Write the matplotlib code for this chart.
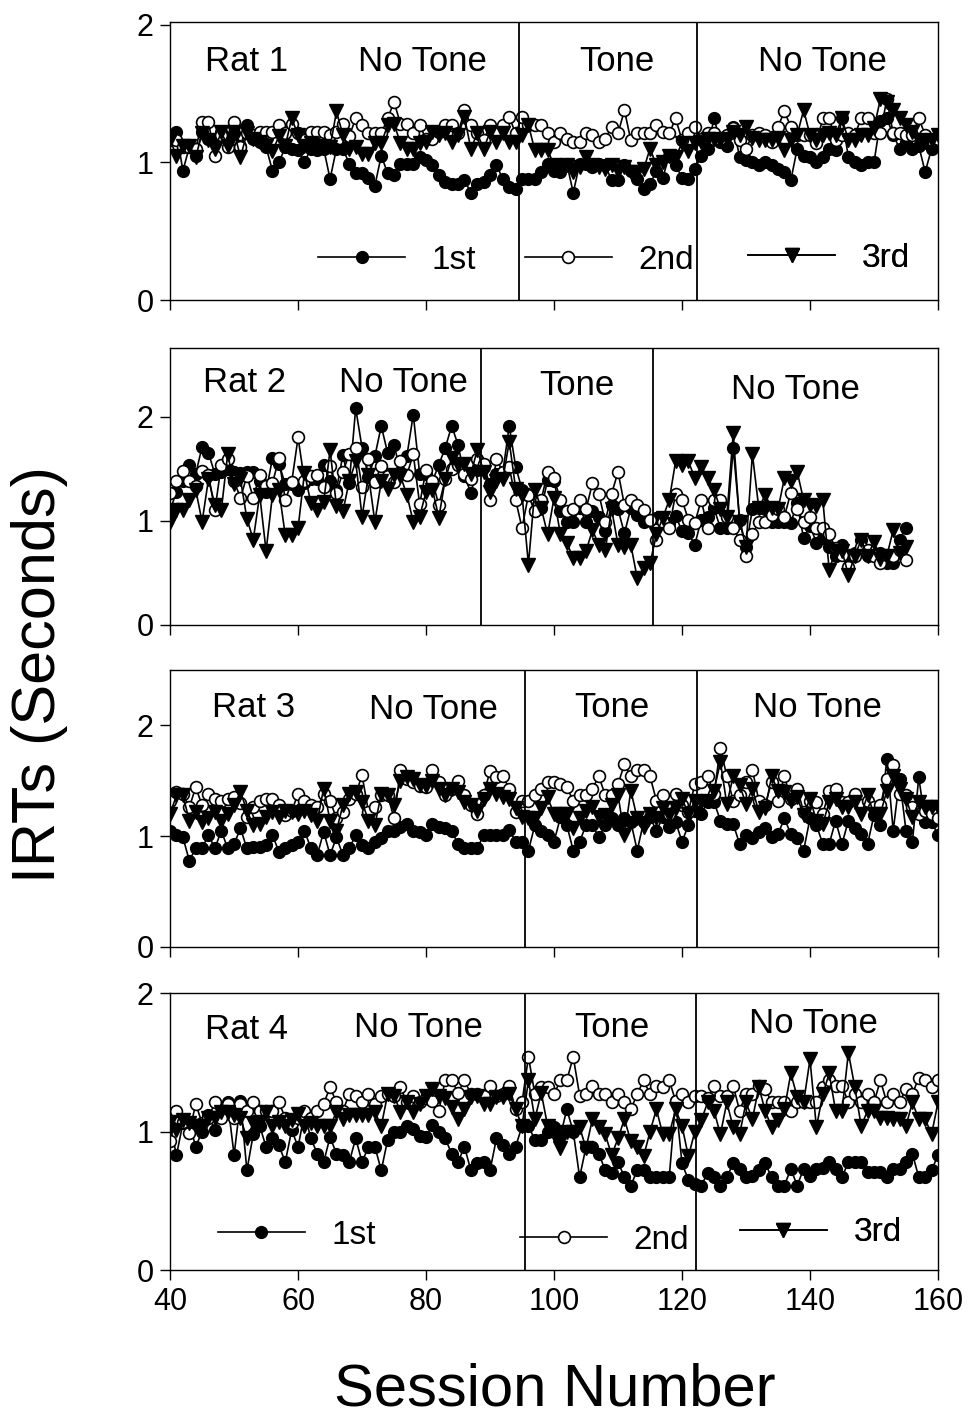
import matplotlib.pyplot as plt
import numpy as np
from matplotlib.lines import Line2D

plt.rcParams['font.family'] = ['Liberation Sans', 'DejaVu Sans']

# -----------------------------------------------------------------------------
# Data (IRTs in seconds)
# -----------------------------------------------------------------------------
sessions = np.arange(40, 161)
sessions_rat2 = np.arange(40, 156)

rat1_first = [
    1.20, 1.22, 0.94, 1.11, 1.05, 1.22, 1.17, 1.15, 1.22, 1.17,
    1.21, 1.12, 1.27, 1.17, 1.15, 1.11, 0.94, 1.00, 1.11, 1.10,
    1.09, 1.00, 1.10, 1.09, 1.10, 0.88, 1.10, 1.10, 0.99, 0.92,
    0.92, 0.89, 0.83, 1.05, 0.92, 0.91, 0.99, 0.99, 0.99, 1.04,
    1.02, 0.98, 0.91, 0.86, 0.84, 0.84, 0.87, 0.78, 0.84, 0.86,
    0.91, 0.98, 0.88, 0.82, 0.81, 0.88, 0.88, 0.88, 0.93, 0.99,
    0.94, 0.93, 0.99, 0.78, 0.99, 0.99, 0.97, 0.99, 0.98, 0.87,
    0.87, 0.98, 0.94, 0.88, 0.81, 0.84, 0.94, 0.89, 1.05, 0.98,
    0.89, 0.88, 0.95, 1.05, 1.10, 1.32, 1.15, 1.12, 1.26, 1.04,
    1.02, 1.00, 0.98, 1.00, 0.98, 0.95, 0.93, 0.87, 1.10, 1.05,
    1.04, 1.00, 1.04, 1.10, 1.09, 1.32, 1.04, 1.00, 0.98, 1.00,
    1.00, 1.30, 1.32, 1.20, 1.10, 1.15, 1.10, 1.12, 0.93, 1.10,
    1.17]
rat1_second = [
    1.17, 1.16, 1.11, 1.11, 1.10, 1.29, 1.29, 1.05, 1.20, 1.11,
    1.29, 1.11, 1.21, 1.20, 1.22, 1.22, 1.22, 1.27, 1.21, 1.28,
    1.21, 1.16, 1.22, 1.22, 1.22, 1.20, 1.22, 1.28, 1.19, 1.32,
    1.27, 1.21, 1.21, 1.21, 1.32, 1.44, 1.28, 1.28, 1.21, 1.27,
    1.17, 1.17, 1.22, 1.27, 1.27, 1.21, 1.38, 1.27, 1.21, 1.16,
    1.27, 1.21, 1.27, 1.33, 1.21, 1.33, 1.27, 1.27, 1.27, 1.21,
    1.15, 1.21, 1.17, 1.15, 1.15, 1.21, 1.20, 1.15, 1.17, 1.26,
    1.21, 1.38, 1.16, 1.21, 1.21, 1.21, 1.27, 1.22, 1.21, 1.32,
    1.16, 1.21, 1.26, 1.17, 1.21, 1.21, 1.17, 1.20, 1.25, 1.16,
    1.10, 1.20, 1.21, 1.20, 1.15, 1.26, 1.37, 1.26, 1.20, 1.20,
    1.20, 1.14, 1.32, 1.32, 1.16, 1.20, 1.21, 1.20, 1.32, 1.32,
    1.21, 1.21, 1.46, 1.21, 1.21, 1.20, 1.20, 1.32, 1.20, 1.16,
    1.17]
rat1_third = [
    1.16, 1.05, 1.12, 1.12, 1.04, 1.21, 1.16, 1.10, 1.22, 1.12,
    1.22, 1.04, 1.21, 1.17, 1.15, 1.12, 1.08, 1.19, 1.12, 1.32,
    1.20, 1.12, 1.14, 1.12, 1.12, 1.11, 1.37, 1.20, 1.10, 1.11,
    1.06, 1.06, 1.14, 1.14, 1.27, 1.28, 1.14, 1.10, 1.10, 1.14,
    1.15, 1.22, 1.20, 1.21, 1.15, 1.20, 1.33, 1.10, 1.21, 1.10,
    1.22, 1.15, 1.21, 1.15, 1.15, 1.20, 1.27, 1.09, 1.09, 1.09,
    0.98, 0.97, 0.98, 0.93, 0.97, 1.04, 0.98, 0.97, 0.95, 0.98,
    0.94, 0.97, 0.93, 0.93, 0.95, 1.10, 0.98, 1.00, 1.05, 1.04,
    1.14, 1.08, 1.14, 1.15, 1.17, 1.17, 1.16, 1.17, 1.22, 1.20,
    1.26, 1.18, 1.16, 1.16, 1.16, 1.18, 1.09, 1.16, 1.20, 1.38,
    1.20, 1.16, 1.20, 1.21, 1.20, 1.32, 1.16, 1.16, 1.20, 1.20,
    1.25, 1.46, 1.44, 1.38, 1.32, 1.27, 1.22, 1.16, 1.15, 1.16,
    1.20]

rat2_first = [
    1.10, 1.28, 1.38, 1.54, 1.45, 1.71, 1.65, 1.45, 1.47, 1.50,
    1.47, 1.46, 1.47, 1.47, 1.38, 1.28, 1.60, 1.55, 1.35, 1.35,
    1.30, 1.36, 1.40, 1.40, 1.54, 1.38, 1.30, 1.63, 1.36, 2.08,
    1.70, 1.42, 1.62, 1.91, 1.65, 1.73, 1.47, 1.62, 2.02, 1.45,
    1.45, 1.38, 1.54, 1.70, 1.91, 1.73, 1.43, 1.27, 1.49, 1.52,
    1.35, 1.45, 1.47, 1.91, 1.52, 1.30, 1.25, 1.09, 1.12, 1.39,
    1.38, 1.09, 0.99, 0.99, 1.12, 0.99, 1.09, 1.04, 0.90, 1.15,
    1.11, 0.88, 1.12, 1.06, 0.99, 1.01, 1.03, 1.00, 0.98, 1.05,
    0.90, 0.88, 0.77, 1.01, 1.04, 1.12, 0.93, 0.93, 1.70, 1.01,
    0.75, 1.11, 1.12, 1.11, 0.99, 0.99, 0.99, 0.98, 1.17, 0.83,
    0.95, 0.79, 0.83, 0.75, 0.66, 0.77, 0.66, 0.69, 0.82, 0.66,
    0.69, 0.69, 0.59, 0.59, 0.82, 0.93]
rat2_second = [
    1.27, 1.38, 1.48, 1.38, 1.33, 1.48, 1.44, 1.10, 1.54, 1.59,
    1.38, 1.22, 1.43, 1.22, 1.44, 1.33, 1.36, 1.60, 1.20, 1.37,
    1.80, 1.38, 1.43, 1.44, 1.32, 1.53, 1.27, 1.47, 1.64, 1.70,
    1.32, 1.59, 1.37, 1.53, 1.43, 1.37, 1.57, 1.44, 1.64, 1.16,
    1.49, 1.38, 1.15, 1.40, 1.50, 1.54, 1.45, 1.40, 1.59, 1.55,
    1.20, 1.59, 1.47, 1.52, 1.20, 0.93, 1.25, 1.09, 1.20, 1.47,
    1.41, 1.20, 1.09, 1.11, 1.20, 1.11, 1.36, 1.26, 0.99, 1.26,
    1.47, 1.15, 1.20, 1.15, 1.10, 1.01, 0.82, 0.99, 0.93, 1.26,
    1.20, 1.01, 0.98, 1.20, 0.93, 1.20, 1.20, 1.04, 0.93, 0.82,
    0.66, 0.87, 0.99, 0.99, 1.06, 1.11, 1.04, 1.27, 1.11, 0.99,
    1.04, 0.93, 0.93, 0.87, 0.74, 0.67, 0.56, 0.66, 0.75, 0.72,
    0.66, 0.59, 0.67, 0.66, 0.72, 0.62]
rat2_third = [
    0.99, 1.10, 1.10, 1.20, 1.30, 0.99, 1.40, 1.15, 1.10, 1.64,
    1.35, 1.40, 1.02, 0.82, 1.25, 0.71, 1.25, 1.30, 0.86, 0.86,
    0.93, 1.46, 1.17, 1.10, 1.18, 1.68, 1.14, 1.09, 1.38, 1.57,
    1.04, 1.44, 0.99, 1.38, 1.31, 1.44, 1.43, 1.25, 0.99, 1.04,
    1.28, 1.30, 1.03, 1.40, 1.60, 1.54, 1.55, 1.45, 1.68, 1.47,
    1.28, 1.38, 1.40, 1.76, 1.31, 1.25, 0.58, 1.30, 1.12, 0.87,
    1.22, 0.87, 0.79, 0.64, 0.64, 0.71, 0.91, 0.77, 0.72, 1.11,
    0.77, 0.75, 0.77, 0.45, 0.55, 0.59, 0.87, 1.03, 1.20, 1.57,
    1.54, 1.57, 1.41, 1.52, 1.41, 1.30, 1.11, 1.04, 1.84, 0.99,
    0.75, 1.64, 1.12, 1.25, 1.12, 1.11, 1.41, 1.38, 1.47, 1.20,
    1.15, 1.14, 1.20, 0.53, 0.71, 0.71, 0.48, 0.66, 0.82, 0.66,
    0.80, 0.63, 0.66, 0.91, 0.69, 0.75]

rat3_first = [
    1.05, 1.01, 0.99, 0.78, 0.89, 0.89, 1.01, 0.89, 1.05, 0.89,
    0.93, 1.07, 0.89, 0.90, 0.90, 0.92, 1.01, 0.86, 0.89, 0.92,
    0.95, 1.05, 0.89, 0.83, 1.04, 0.83, 0.99, 0.83, 0.89, 1.01,
    0.92, 0.89, 0.95, 0.98, 1.05, 1.05, 1.08, 1.11, 1.05, 1.04,
    1.01, 1.11, 1.08, 1.07, 1.05, 0.93, 0.89, 0.89, 0.89, 1.01,
    1.01, 1.01, 1.01, 1.06, 0.95, 0.95, 0.87, 1.10, 1.05, 1.01,
    0.95, 1.17, 1.10, 0.87, 0.95, 1.10, 1.10, 0.99, 1.10, 1.16,
    1.10, 1.16, 1.13, 0.87, 1.13, 1.17, 1.05, 1.17, 1.08, 1.13,
    0.95, 1.10, 1.23, 1.20, 1.31, 1.31, 1.14, 1.11, 1.11, 0.93,
    1.01, 0.98, 1.04, 1.07, 0.99, 1.02, 1.16, 1.02, 0.98, 0.87,
    1.16, 1.10, 0.93, 0.93, 1.14, 0.93, 1.14, 1.07, 1.02, 0.93,
    1.19, 1.10, 1.70, 1.05, 1.52, 1.05, 0.95, 1.53, 1.13, 1.13,
    1.01]
rat3_second = [
    1.32, 1.40, 1.38, 1.26, 1.44, 1.28, 1.38, 1.34, 1.32, 1.34,
    1.35, 1.30, 1.17, 1.26, 1.32, 1.34, 1.34, 1.28, 1.19, 1.23,
    1.38, 1.32, 1.28, 1.26, 1.38, 1.32, 1.16, 1.22, 1.34, 1.38,
    1.55, 1.22, 1.26, 1.37, 1.37, 1.16, 1.60, 1.52, 1.49, 1.45,
    1.44, 1.60, 1.49, 1.37, 1.43, 1.50, 1.37, 1.28, 1.20, 1.37,
    1.59, 1.53, 1.54, 1.43, 1.22, 1.32, 1.32, 1.37, 1.43, 1.49,
    1.49, 1.47, 1.44, 1.32, 1.37, 1.37, 1.43, 1.54, 1.37, 1.37,
    1.47, 1.65, 1.54, 1.60, 1.60, 1.54, 1.32, 1.37, 1.20, 1.38,
    1.28, 1.22, 1.47, 1.49, 1.54, 1.38, 1.80, 1.54, 1.32, 1.37,
    1.49, 1.60, 1.32, 1.28, 1.49, 1.32, 1.54, 1.34, 1.43, 1.22,
    1.32, 1.31, 1.20, 1.41, 1.43, 1.31, 1.31, 1.38, 1.28, 1.32,
    1.26, 1.28, 1.52, 1.64, 1.38, 1.37, 1.26, 1.20, 1.23, 1.20,
    1.16]
rat3_third = [
    1.20, 1.37, 1.37, 1.14, 1.22, 1.13, 1.16, 1.22, 1.14, 1.20,
    1.28, 1.40, 1.23, 1.10, 1.11, 1.17, 1.22, 1.17, 1.23, 1.22,
    1.20, 1.23, 1.19, 1.14, 1.43, 1.14, 1.05, 1.28, 1.38, 1.40,
    1.31, 1.14, 1.10, 1.38, 1.37, 1.28, 1.50, 1.53, 1.52, 1.46,
    1.45, 1.50, 1.43, 1.37, 1.43, 1.40, 1.31, 1.28, 1.23, 1.34,
    1.43, 1.38, 1.35, 1.34, 1.25, 1.17, 1.16, 1.16, 1.25, 1.35,
    1.20, 1.20, 1.20, 1.07, 1.16, 1.23, 1.26, 1.17, 1.19, 1.28,
    1.37, 1.01, 1.41, 1.16, 1.08, 1.20, 1.16, 1.25, 1.19, 1.25,
    1.34, 1.20, 1.32, 1.31, 1.32, 1.41, 1.67, 1.29, 1.54, 1.46,
    1.29, 1.43, 1.22, 1.25, 1.54, 1.41, 1.40, 1.32, 1.35, 1.19,
    1.34, 1.14, 1.11, 1.31, 1.34, 1.26, 1.26, 1.31, 1.20, 1.37,
    1.20, 1.20, 1.41, 1.54, 1.43, 1.34, 1.17, 1.31, 1.26, 1.26,
    1.26]

rat4_first = [
    1.04, 0.83, 1.06, 1.06, 0.89, 1.00, 1.12, 1.01, 1.18, 1.21,
    0.83, 1.22, 0.72, 0.98, 1.04, 0.89, 0.95, 0.90, 0.78, 1.01,
    0.89, 1.13, 0.95, 0.84, 0.78, 0.96, 0.84, 0.83, 0.78, 0.95,
    0.78, 0.89, 0.89, 0.72, 0.94, 1.00, 1.00, 1.04, 1.02, 0.97,
    0.96, 1.05, 1.00, 0.95, 0.84, 0.78, 0.89, 0.72, 0.77, 0.78,
    0.72, 0.95, 0.90, 0.84, 0.89, 1.04, 1.04, 0.94, 0.94, 1.00,
    1.03, 0.97, 1.16, 1.00, 0.67, 0.89, 0.89, 0.84, 0.72, 0.70,
    0.78, 0.67, 0.61, 0.72, 0.72, 0.67, 0.67, 0.67, 0.67, 1.22,
    0.77, 0.65, 0.62, 0.61, 0.70, 0.67, 0.61, 0.67, 0.77, 0.73,
    0.67, 0.68, 0.72, 0.77, 0.67, 0.61, 0.61, 0.73, 0.61, 0.73,
    0.68, 0.73, 0.74, 0.78, 0.73, 0.67, 0.78, 0.78, 0.78, 0.71,
    0.71, 0.71, 0.67, 0.73, 0.73, 0.78, 0.84, 0.67, 0.67, 0.72,
    0.83]
rat4_second = [
    0.93, 1.15, 1.07, 0.99, 1.20, 1.06, 1.10, 1.21, 1.10, 1.20,
    1.10, 1.20, 1.15, 1.21, 1.15, 1.15, 1.15, 1.21, 1.10, 1.06,
    1.10, 1.15, 1.10, 1.15, 1.20, 1.32, 1.21, 1.15, 1.27, 1.26,
    1.21, 1.27, 1.20, 1.26, 1.27, 1.26, 1.32, 1.21, 1.26, 1.21,
    1.24, 1.22, 1.15, 1.37, 1.37, 1.28, 1.37, 1.27, 1.27, 1.26,
    1.33, 1.26, 1.27, 1.33, 1.16, 1.21, 1.54, 1.27, 1.32, 1.32,
    1.27, 1.37, 1.37, 1.54, 1.26, 1.27, 1.33, 1.27, 1.27, 1.21,
    1.27, 1.21, 1.16, 1.27, 1.37, 1.27, 1.33, 1.32, 1.37, 1.22,
    1.27, 1.21, 1.26, 1.26, 1.24, 1.33, 1.26, 1.26, 1.33, 1.15,
    1.27, 1.27, 1.33, 1.31, 1.21, 1.21, 1.21, 1.15, 1.21, 1.21,
    1.21, 1.21, 1.32, 1.37, 1.33, 1.33, 1.21, 1.27, 1.21, 1.27,
    1.21, 1.37, 1.21, 1.27, 1.21, 1.31, 1.27, 1.39, 1.37, 1.32,
    1.37]
rat4_third = [
    1.07, 1.01, 1.08, 1.06, 1.04, 1.04, 1.10, 1.10, 1.14, 1.14,
    1.12, 1.10, 0.95, 1.06, 1.07, 1.14, 1.04, 1.07, 1.04, 1.08,
    1.13, 1.04, 1.06, 1.04, 1.04, 1.04, 1.14, 1.09, 1.12, 1.12,
    1.12, 1.12, 1.14, 1.04, 1.27, 1.26, 1.14, 1.21, 1.14, 1.20,
    1.26, 1.31, 1.26, 1.24, 1.18, 1.09, 1.16, 1.25, 1.26, 1.20,
    1.20, 1.25, 1.25, 1.27, 1.16, 1.04, 1.37, 1.09, 1.28, 1.04,
    0.98, 0.88, 1.00, 1.00, 1.03, 0.88, 1.09, 1.03, 0.98, 0.83,
    0.95, 1.09, 0.93, 0.89, 0.82, 1.00, 1.16, 0.98, 0.98, 1.16,
    1.04, 0.82, 1.00, 1.08, 1.21, 1.15, 0.98, 1.21, 1.03, 0.98,
    1.21, 1.09, 1.32, 1.15, 1.03, 1.08, 1.16, 1.42, 1.25, 1.21,
    1.52, 1.03, 1.27, 1.42, 1.15, 1.15, 1.57, 1.32, 1.04, 1.15,
    1.15, 1.10, 1.10, 1.09, 1.09, 1.04, 1.21, 1.09, 1.09, 0.98,
    1.21]

# sessions where the tone phase starts / ends
rat1_phase_lines = [94.5, 122.3]
rat2_phase_lines = [88.6, 115.5]
rat3_phase_lines = [95.5, 122.3]
rat4_phase_lines = [95.5, 122.2]

rat_labels = ['Rat 1', 'Rat 2', 'Rat 3', 'Rat 4']
phase_labels = ['No Tone', 'Tone', 'No Tone']
series_labels = ['1st', '2nd', '3rd']

# -----------------------------------------------------------------------------
# Figure
# -----------------------------------------------------------------------------
fig = plt.figure(figsize=(9.72, 14.2), dpi=100)

panels = [
    # rect, x, (1st, 2nd, 3rd), phase lines, ylim
    ([0.175, 0.7887, 0.790, 0.1958], sessions, (rat1_first, rat1_second, rat1_third),
     rat1_phase_lines, 2.02),
    ([0.175, 0.5599, 0.790, 0.1951], sessions_rat2, (rat2_first, rat2_second, rat2_third),
     rat2_phase_lines, 2.66),
    ([0.175, 0.3331, 0.790, 0.1951], sessions, (rat3_first, rat3_second, rat3_third),
     rat3_phase_lines, 2.50),
    ([0.175, 0.1056, 0.790, 0.1951], sessions, (rat4_first, rat4_second, rat4_third),
     rat4_phase_lines, 2.00),
]

# label positions (session, IRT) for rat name and the three phase labels
label_pos = [
    [(51.9, 1.73), (79.4, 1.73), (109.8, 1.73), (141.9, 1.73)],
    [(51.7, 2.33), (76.4, 2.33), (103.6, 2.30), (137.7, 2.26)],
    [(53.0, 2.16), (81.1, 2.14), (109.1, 2.16), (141.1, 2.16)],
    [(51.9, 1.74), (78.8, 1.75), (109.1, 1.75), (140.5, 1.78)],
]

styles = [
    dict(marker='o', markersize=8.5, markerfacecolor='black', markeredgecolor='black'),
    dict(marker='o', markersize=8.5, markerfacecolor='white', markeredgecolor='black',
         markeredgewidth=1.2),
    dict(marker='v', markersize=9.5, markerfacecolor='black', markeredgecolor='black'),
]

axes = []
for i, (rect, x, ys, vlines, ytop) in enumerate(panels):
    ax = fig.add_axes(rect)
    for y, st in zip(ys, styles):
        ax.plot(x, y, color='black', linewidth=1.2, **st)
    for v in vlines:
        ax.axvline(v, color='black', linewidth=1.3)
    ax.set_xlim(40, 160)
    ax.set_ylim(0, ytop)
    ax.set_yticks([0, 1, 2])
    ax.set_xticks(range(40, 161, 20))
    ax.tick_params(direction='out', length=7, width=1, labelsize=22, pad=5)
    if i < 3:
        ax.set_xticklabels([])
    for sp in ax.spines.values():
        sp.set_linewidth(1.0)
    lp = label_pos[i]
    ax.text(lp[0][0], lp[0][1], rat_labels[i], ha='center', va='center', fontsize=25)
    for (px, py), txt in zip(lp[1:], phase_labels):
        ax.text(px, py, txt, ha='center', va='center', fontsize=25)
    axes.append(ax)


def add_key(ax, style, label, xa, ya):
    h = Line2D([], [], color='black', linewidth=1.2, **style)
    leg = ax.legend([h], [label], loc='center left', bbox_to_anchor=(xa, ya),
                    frameon=False, fontsize=24, handlelength=2.6,
                    handletextpad=0.8, borderpad=0, borderaxespad=0)
    ax.add_artist(leg)


# legend keys in the top and bottom panels
key_pos_top = [(0.193, 0.144), (0.462, 0.144), (0.753, 0.151)]
key_pos_bottom = [(0.0625, 0.126), (0.456, 0.108), (0.742, 0.134)]
for st, lab, (xa, ya) in zip(styles, series_labels, key_pos_top):
    add_key(axes[0], st, lab, xa, ya)
for st, lab, (xa, ya) in zip(styles, series_labels, key_pos_bottom):
    add_key(axes[3], st, lab, xa, ya)

fig.text(0.041, 0.525, 'IRTs (Seconds)', rotation=90, ha='center', va='center',
         fontsize=44)
fig.text(0.571, 0.021, 'Session Number', ha='center', va='center', fontsize=43)

fig.savefig('out.png', dpi=100)
